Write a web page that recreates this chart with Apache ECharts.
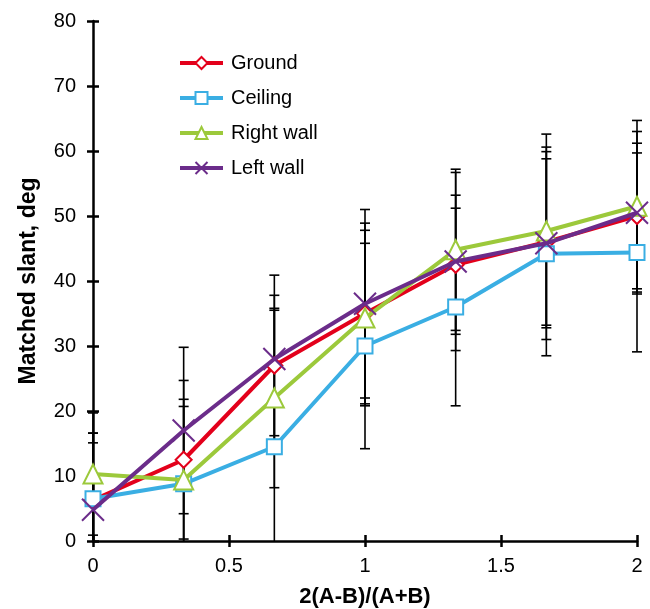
<!DOCTYPE html>
<html><head><meta charset="utf-8">
<script src="https://cdn.jsdelivr.net/npm/echarts@6/dist/echarts.min.js"></script>
<style>html,body{margin:0;padding:0;background:#fff}#c{width:650px;height:609px}</style>
</head><body><div id="c"></div>
<script>
const xValues = [0, 0.3333, 0.6667, 1, 1.3333, 1.6667, 2];
const xTicks = [0, 0.5, 1, 1.5, 2];
const seriesNames = ['Ground', 'Ceiling', 'Right wall', 'Left wall'];
const groundMean = [6.3, 12.5, 27, 35, 42.5, 46, 50];
const groundErr = [10.3, 12.2, 10.8, 13.9, 10.7, 12.8, 11.2];
const ceilingMean = [6.5, 8.8, 14.5, 30, 36, 44.2, 44.4];
const ceilingErr = [8.6, 11.9, 21, 15.8, 15.2, 15.7, 15.3];
const rightMean = [10.3, 9.4, 22, 34.3, 44.8, 47.7, 51.5];
const rightErr = [9.4, 12.4, 13.8, 13.5, 12.4, 14.9, 13.2];
const leftMean = [4.8, 17, 28, 36.5, 43, 45.8, 50.5];
const leftErr = [11.8, 12.8, 12.9, 14.5, 13.7, 14.8, 12.5];

const colors = ['#e3001b', '#3aaee3', '#9cc93b', '#6b2c8a'];
const symbols = ['diamond', 'rect', 'triangle', 'path://M0,0L10,10M10,0L0,10'];
const symbolSizes = [16, 15, 19, 22];
const means = [groundMean, ceilingMean, rightMean, leftMean];
const errs = [groundErr, ceilingErr, rightErr, leftErr];

const font = '"Liberation Sans", Arial, sans-serif';

const errData = [];
means.forEach((m, si) => {
  m.forEach((v, i) => errData.push([xValues[i], v - errs[si][i], v + errs[si][i]]));
});

const chart = echarts.init(document.getElementById('c'));
const series = [{
  type: 'custom',
  name: 'err',
  clip: false,
  z: 1,
  encode: {x: 0, y: [1, 2]},
  data: errData,
  renderItem: function (params, api) {
    const x = api.value(0), lo = api.value(1), hi = api.value(2);
    const p1 = api.coord([x, hi]);
    const p2 = api.coord([x, Math.max(lo, 0)]);
    const w = 5;
    const st = {stroke: '#000', lineWidth: 1.6};
    const ch = [
      {type: 'line', shape: {x1: p1[0], y1: p1[1], x2: p2[0], y2: p2[1]}, style: st},
      {type: 'line', shape: {x1: p1[0] - w, y1: p1[1], x2: p1[0] + w, y2: p1[1]}, style: st}
    ];
    if (lo >= 0) ch.push({type: 'line', shape: {x1: p2[0] - w, y1: p2[1], x2: p2[0] + w, y2: p2[1]}, style: st});
    return {type: 'group', children: ch};
  }
}];
seriesNames.forEach((n, si) => {
  series.push({
    type: 'line',
    name: n,
    z: 3 + si,
    data: means[si].map((v, i) => [xValues[i], v]),
    symbol: symbols[si],
    symbolSize: symbolSizes[si],
    showAllSymbol: true,
    lineStyle: {color: colors[si], width: 4},
    itemStyle: {color: si === 3 ? 'rgba(255,255,255,0)' : '#fff', borderColor: colors[si], borderWidth: 2},
    emphasis: {disabled: true}
  });
});

chart.setOption({
  animation: false,
  grid: {left: 93, right: 13, top: 21, bottom: 68, outerBoundsMode: 'none', containLabel: false},
  legend: {
    orient: 'vertical', left: 173, top: 48, itemGap: 15,
    itemWidth: 43, itemHeight: 15,
    lineStyle: {width: 4},
    data: seriesNames,
    textStyle: {fontFamily: font, fontSize: 20, color: '#000', padding: [0, 0, 0, 3]}
  },
  xAxis: [{
    type: 'value', min: 0, max: 2, interval: 0.5,
    name: '2(A-B)/(A+B)', nameLocation: 'middle', nameGap: 45,
    nameTextStyle: {fontFamily: font, fontSize: 22, fontWeight: 'bold', color: '#000'},
    axisLine: {lineStyle: {color: '#000', width: 2.5}},
    axisTick: {inside: false, length: 6, lineStyle: {color: '#000', width: 2.5}},
    axisLabel: {fontFamily: font, fontSize: 20, color: '#000', margin: 15,
      formatter: v => xTicks.indexOf(v) >= 0 ? String(v) : ''},
    splitLine: {show: false}
  }, {
    type: 'value', min: 0, max: 2, interval: 0.5, position: 'bottom',
    axisLine: {show: false},
    axisTick: {inside: true, length: 6, lineStyle: {color: '#000', width: 2.5}},
    axisLabel: {show: false}, splitLine: {show: false}
  }],
  yAxis: [{
    type: 'value', min: 0, max: 80, interval: 10,
    name: 'Matched slant, deg', nameLocation: 'middle', nameGap: 53,
    nameTextStyle: {fontFamily: font, fontSize: 23, fontWeight: 'bold', color: '#000'},
    axisLine: {show: true, lineStyle: {color: '#000', width: 2.5}},
    axisTick: {show: true, inside: false, length: 6, lineStyle: {color: '#000', width: 2.5}},
    axisLabel: {fontFamily: font, fontSize: 20, color: '#000', margin: 17},
    splitLine: {show: false}
  }, {
    type: 'value', min: 0, max: 80, interval: 10, position: 'left',
    axisLine: {show: false},
    axisTick: {show: true, inside: true, length: 6, lineStyle: {color: '#000', width: 2.5}},
    axisLabel: {show: false}, splitLine: {show: false}
  }],
  series: series
});
</script></body></html>
